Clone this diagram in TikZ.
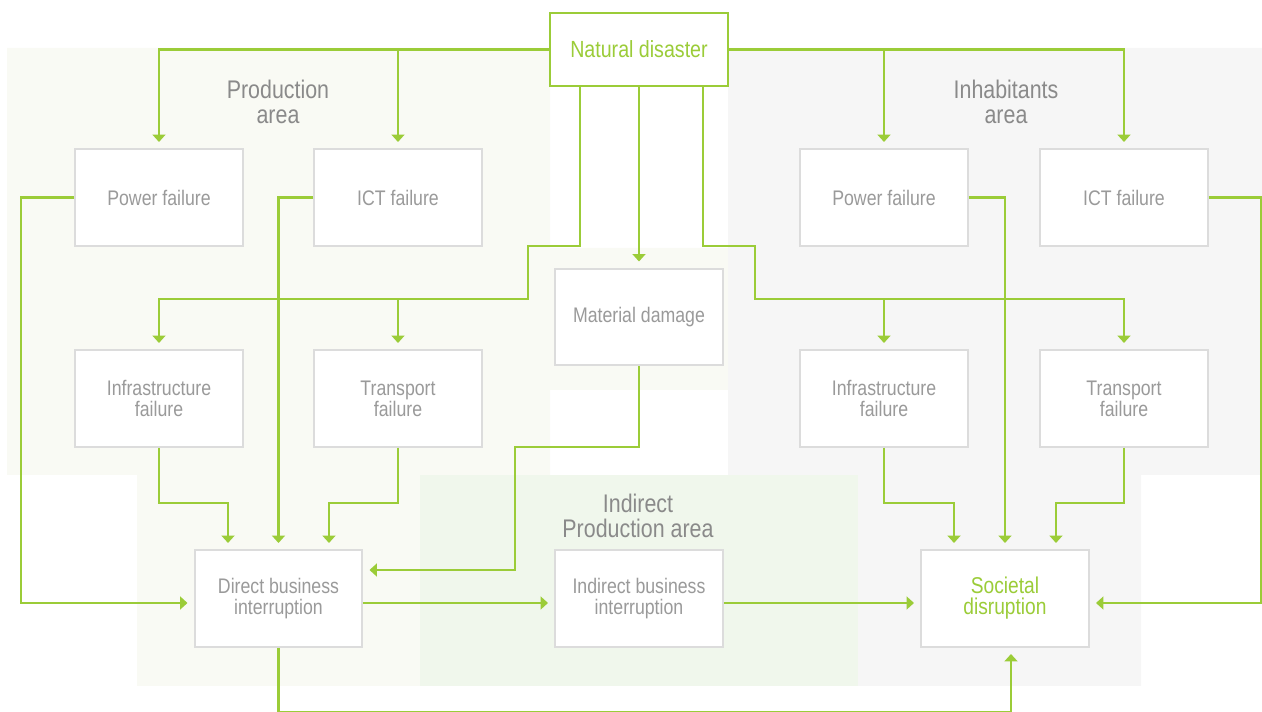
\documentclass[tikz,border=0pt]{standalone}
\usepackage{fontspec}
\setmainfont{Liberation Sans}[FakeStretch=0.84]
\usepackage{tikz}
\usetikzlibrary{arrows.meta}
\definecolor{Leaf}{HTML}{9BCC38}
\definecolor{Frame}{HTML}{DCDCDC}
\definecolor{Label}{HTML}{9A9A9A}
\definecolor{Zone}{HTML}{8A8A8A}
\definecolor{ProdBg}{HTML}{F9FAF4}
\definecolor{HomeBg}{HTML}{F6F6F6}
\definecolor{IndBg}{HTML}{F0F7EC}
\tikzset{
 box/.style={draw=Frame,line width=0.04cm,fill=white,align=center,text=Label,
   font=\fontsize{12}{12}\selectfont,minimum width=3.36cm,minimum height=1.94cm,inner sep=2pt},
 key/.style={box,text=Leaf,font=\fontsize{13}{12}\selectfont},
 zone/.style={text=Zone,align=center,font=\fontsize{14.5}{13.8}\selectfont},
 arr/.style={-{Triangle[width=0.26cm,length=0.15cm]},line width=0.045cm,draw=Leaf,shorten >=0.12cm}
}

\begin{document}
\begin{tikzpicture}[x=0.02cm,y=-0.02cm]
\useasboundingbox (0,0) rectangle (1262,712);
% shaded areas
\fill[ProdBg] (7,48) rectangle (550,475) (137,475) rectangle (420,686) (550,248) rectangle (728,390);
\fill[HomeBg] (728,48) rectangle (1262,475) (858,475) rectangle (1141,686);
\fill[IndBg] (420,475) rectangle (858,686);
\node[zone] (prodA) at (278,102) {Production\\area};
\node[zone] (homeA) at (1006,102) {Inhabitants\\area};
\node[zone] (indA) at (638,516) {Indirect\\Production area};

% boxes
\node[key,draw=Leaf,minimum width=3.56cm,minimum height=1.46cm,font=\fontsize{13.3}{13.3}\selectfont] (nd) at (639,49.5) {Natural disaster};
\node[box] (powP) at (159,197.5) {Power failure};
\node[box] (ictP) at (398,197.5) {ICT failure};
\node[box] (powI) at (884,197.5) {Power failure};
\node[box] (ictI) at (1124,197.5) {ICT failure};
\node[box] (mat) at (639,317) {Material damage};
\node[box] (infP) at (159,398.5) {Infrastructure\\failure};
\node[box] (trnP) at (398,398.5) {Transport\\failure};
\node[box] (infI) at (884,398.5) {Infrastructure\\failure};
\node[box] (trnI) at (1124,398.5) {Transport\\failure};
\node[box] (dbi) at (278.5,598.5) {Direct business\\interruption};
\node[box] (ibi) at (639,598.5) {Indirect business\\interruption};
\node[key] (soc) at (1005,598.5) {Societal\\disruption};

% from the disaster
\draw[arr] (nd.west) -| (powP.north);
\draw[arr] (nd.west) -| (ictP.north);
\draw[arr] (nd.east) -| (powI.north);
\draw[arr] (nd.east) -| (ictI.north);
\draw[arr] (nd.south) -- (mat.north);
\coordinate (splitP) at (528,299);
\coordinate (splitI) at (755,299);
\draw[arr] ([xshift=-1.18cm]nd.south) |- (528,246) -- (splitP) -| (infP.north);
\draw[arr] (splitP) -| (trnP.north);
\draw[arr] ([xshift=1.28cm]nd.south) |- (755,246) -- (splitI) -| (trnI.north);
\draw[arr] (splitI) -| (infI.north);

% into direct business interruption
\draw[arr] (powP.west) -- (21,197.5) |- ([yshift=-0.09cm]dbi.west);
\draw[arr] (ictP.west) -| (dbi.north);
\draw[arr] (infP.south) -- ++(0,55) -| ([xshift=-1.01cm]dbi.north);
\draw[arr] (trnP.south) -- ++(0,55) -| ([xshift=1.01cm]dbi.north);
\draw[arr] (mat.south) |- (515,447) |- ([yshift=0.57cm]dbi.east);

% onwards to society
\draw[arr] ([yshift=-0.09cm]dbi.east) -- ([yshift=-0.09cm]ibi.west);
\draw[arr] ([yshift=-0.09cm]ibi.east) -- ([yshift=-0.09cm]soc.west);
\draw[arr] (dbi.south) -- ++(0,64) -| ([xshift=0.12cm]soc.south);
\draw[arr] (powI.east) -| (soc.north);
\draw[arr] (ictI.east) -- (1261,197.5) |- ([yshift=-0.09cm]soc.east);
\draw[arr] (infI.south) -- ++(0,55) -| ([xshift=-1.02cm]soc.north);
\draw[arr] (trnI.south) -- ++(0,55) -| ([xshift=1.02cm]soc.north);
\end{tikzpicture}
\end{document}
